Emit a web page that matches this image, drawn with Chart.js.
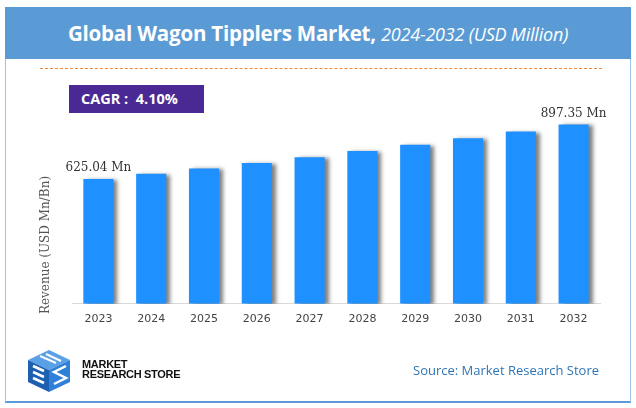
<!DOCTYPE html>
<html>
<head>
<meta charset="utf-8">
<script src="https://cdn.jsdelivr.net/npm/chart.js@4.4.0/dist/chart.umd.min.js"></script>
<style>
  body{margin:0;width:636px;height:408px;background:#fff;overflow:hidden;font-family:"Open Sans",sans-serif;}
  #frame{position:absolute;left:5px;top:7px;width:624px;height:393px;border:1px solid #9dc3e6;border-bottom:2px solid #5b9bd5;}
  #head{position:absolute;left:5px;top:7px;width:626px;height:52px;background:#5b9bd5;color:#fff;text-align:center;line-height:52px;font-size:20.5px;letter-spacing:-0.2px;}
  #head b{font-weight:700;}
  #head i{font-weight:400;font-size:18px;}
  #dash{position:absolute;left:40px;top:68px;width:562px;border-top:1px dashed #f0883a;}
  #cagr{position:absolute;left:69px;top:85px;width:135px;height:28px;background:#4b2994;color:#fff;font-weight:700;font-size:14.5px;line-height:28px;padding-left:12px;box-sizing:border-box;}
  #ytitle{position:absolute;left:45px;top:245px;transform:translate(-50%,-50%) rotate(-90deg);white-space:nowrap;font-family:"DejaVu Serif",serif;font-size:12px;color:#555;}
  #chartBox{position:absolute;left:0;top:0;width:636px;height:408px;}
  #logo{position:absolute;left:26px;top:348px;}
  #logoTxt{position:absolute;left:82px;top:359px;font-family:"Liberation Sans",Arial,sans-serif;font-weight:700;font-size:11px;line-height:10px;color:#111;letter-spacing:-0.3px;}
  #source{position:absolute;left:413px;top:361px;font-size:13px;color:#2e75b6;}
</style>
</head>
<body>
<div id="frame"></div>
<div id="head"><b>Global Wagon Tipplers Market,</b> <i>2024-2032 (USD Million)</i></div>
<div id="dash"></div>
<div id="chartBox"><canvas id="grafico"></canvas></div>
<div id="cagr">CAGR :&nbsp; 4.10%</div>
<div id="ytitle">Revenue (USD Mn/Bn)</div>
<svg id="logo" width="46" height="46" viewBox="0 0 46 46">
  <polygon points="23,2 44,12 23,22 2,12" fill="#5aa0e6"/>
  <polygon points="2,12 23,22 23,44 2,34" fill="#1f5fb0"/>
  <polygon points="23,22 44,12 44,34 23,44" fill="#2f80d8"/>
  <path d="M7,18 L18,23 M7,24 L18,29 M7,30 L18,35" stroke="#fff" stroke-width="2.5"/>
  <path d="M40,18 L28,24 L40,30 L28,36" stroke="#fff" stroke-width="2.5" fill="none"/>
  <path d="M14,8 L30,15 M20,6 L35,13" stroke="#fff" stroke-width="2"/>
</svg>
<div id="logoTxt">MARKET<br>RESEARCH STORE</div>
<div id="source">Source: Market Research Store</div>

<script>
// dados do gráfico
const anos = ['2023','2024','2025','2026','2027','2028','2029','2030','2031','2032'];
const receita = [625.04, 650.7, 677.4, 705.1, 734.0, 764.1, 795.5, 828.1, 862.0, 897.35];
const rotulos = ['625.04 Mn', '', '', '', '', '', '', '', '', '897.35 Mn'];

// sombra cinza atrás das barras
const sombraBarras = {
  id: 'sombraBarras',
  beforeDatasetsDraw(chart){
    const ctx = chart.ctx;
    ctx.save();
    ctx.shadowColor = 'rgba(0,0,0,0.5)';
    ctx.shadowBlur = 4;
    ctx.shadowOffsetX = 4;
    ctx.shadowOffsetY = 1;
  },
  afterDatasetsDraw(chart){
    chart.ctx.restore();
  }
};

// rótulos só na primeira e última barra
const rotulosBarras = {
  id: 'rotulosBarras',
  afterDatasetsDraw(chart){
    const ctx = chart.ctx;
    const meta = chart.getDatasetMeta(0);
    ctx.save();
    ctx.font = '12px "DejaVu Serif", serif';
    ctx.fillStyle = '#333';
    ctx.textAlign = 'center';
    ctx.textBaseline = 'bottom';
    meta.data.forEach((bar, i) => {
      if(!rotulos[i]) return;
      ctx.fillText(rotulos[i], bar.x, bar.y - 5);
    });
    ctx.restore();
  }
};

const ctx = document.getElementById('grafico').getContext('2d');
new Chart(ctx, {
  type: 'bar',
  data: {
    labels: anos,
    datasets: [{
      data: receita,
      backgroundColor: '#1e90ff',
      borderWidth: 0,
      categoryPercentage: 1,
      barPercentage: 0.57
    }]
  },
  options: {
    responsive: true,
    maintainAspectRatio: false,
    animation: false,
    layout: { padding: { left: 72, right: 36, top: 80, bottom: 81 } },
    plugins: { legend: { display: false }, tooltip: { enabled: false } },
    scales: {
      x: {
        grid: { display: false },
        border: { display: true, color: '#d9d9d9' },
        ticks: { color: '#444', font: { family: 'DejaVu Sans', size: 11 }, padding: 1 }
      },
      y: { display: false, min: 0, max: 1120 }
    }
  },
  plugins: [sombraBarras, rotulosBarras]
});
</script>
</body>
</html>
